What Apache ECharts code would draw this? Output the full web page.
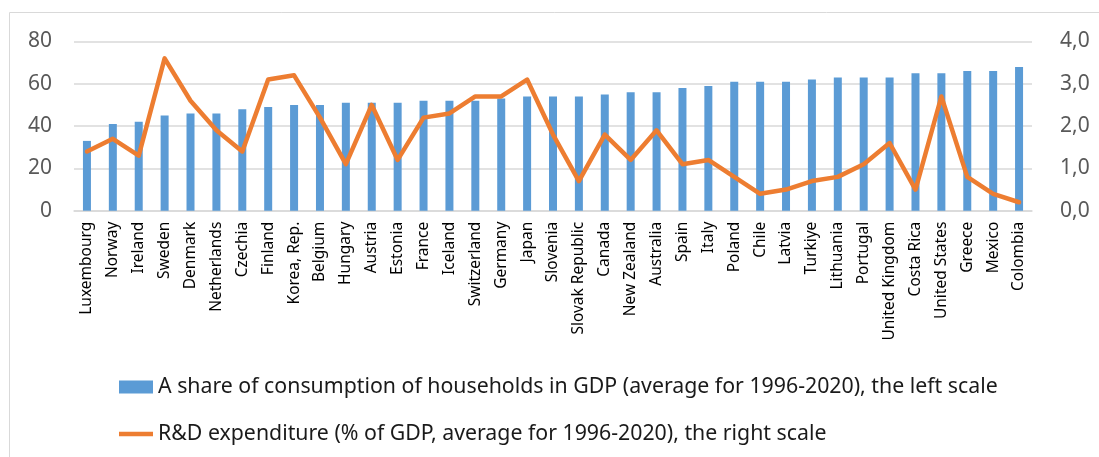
<!DOCTYPE html>
<html>
<head>
<meta charset="utf-8">
<script src="https://cdn.jsdelivr.net/npm/echarts@6/dist/echarts.min.js"></script>
<style>
  html, body { margin: 0; padding: 0; background: #fff; }
  #chart { width: 1099px; height: 457px; }
</style>
</head>
<body>
<div id="chart"></div>
<script>
// countries (x axis)
var countries = ['Luxembourg', 'Norway', 'Ireland', 'Sweden', 'Denmark', 'Netherlands', 'Czechia',
  'Finland', 'Korea, Rep.', 'Belgium', 'Hungary', 'Austria', 'Estonia', 'France', 'Iceland',
  'Switzerland', 'Germany', 'Japan', 'Slovenia', 'Slovak Republic', 'Canada', 'New Zealand',
  'Australia', 'Spain', 'Italy', 'Poland', 'Chile', 'Latvia', 'Turkiye', 'Lithuania', 'Portugal',
  'United Kingdom', 'Costa Rica', 'United States', 'Greece', 'Mexico', 'Colombia'];

// household consumption, % of GDP (left scale)
var consumption = [33, 41, 42, 45, 46, 46, 48, 49, 50, 50, 51, 51, 51, 52, 52, 52, 53, 54, 54, 54,
  55, 56, 56, 58, 59, 61, 61, 61, 62, 63, 63, 63, 65, 65, 66, 66, 68];

// R&D expenditure, % of GDP (right scale)
var rnd = [1.4, 1.7, 1.3, 3.6, 2.6, 1.9, 1.4, 3.1, 3.2, 2.2, 1.1, 2.5, 1.2, 2.2, 2.3, 2.7, 2.7, 3.1,
  1.8, 0.7, 1.8, 1.2, 1.9, 1.1, 1.2, 0.8, 0.4, 0.5, 0.7, 0.8, 1.1, 1.6, 0.5, 2.7, 0.8, 0.4, 0.2];

var nameBar = 'A share of consumption of households in GDP (average for 1996-2020), the left scale';
var nameLine = 'R&D expenditure (% of GDP, average for 1996-2020), the right scale';

var myChart = echarts.init(document.getElementById('chart'));
var option = {
  animation: false,
  textStyle: { fontFamily: 'Noto Sans' },
  grid: { left: 74, right: 67, top: 41.5, bottom: 246.3 },
  graphic: [
    { type: 'line', shape: { x1: 9.5, y1: 12.5, x2: 1099, y2: 12.5 }, style: { stroke: '#d9d9d9', lineWidth: 1 } },
    { type: 'line', shape: { x1: 9.5, y1: 12.5, x2: 9.5, y2: 457 }, style: { stroke: '#d9d9d9', lineWidth: 1 } }
  ],
  legend: {
    orient: 'vertical',
    left: 119,
    top: 375,
    padding: 0,
    itemWidth: 34,
    itemHeight: 13,
    itemGap: 23,
    textStyle: { fontSize: 21.3, color: '#1a1a1a', lineHeight: 24, fontFamily: 'Noto Sans' },
    data: [
      { name: nameBar, icon: 'rect' },
      { name: nameLine, icon: 'path://M0,0 L34,0 L34,4.5 L0,4.5 Z' }
    ]
  },
  xAxis: {
    type: 'category',
    data: countries,
    axisLine: { lineStyle: { color: '#d9d9d9', width: 1.5 } },
    axisTick: { show: false },
    axisLabel: { rotate: 90, interval: 0, fontSize: 15.5, color: '#000', margin: 11 }
  },
  yAxis: [
    {
      type: 'value', min: 0, max: 80, interval: 20,
      axisLine: { show: false }, axisTick: { show: false },
      splitLine: { lineStyle: { color: '#d9d9d9', width: 1.5 } },
      axisLabel: { fontSize: 21, color: '#595959', margin: 22 }
    },
    {
      type: 'value', min: 0, max: 4, interval: 1,
      axisLine: { show: false }, axisTick: { show: false },
      splitLine: { show: false },
      axisLabel: {
        fontSize: 21, color: '#595959', margin: 28,
        formatter: function (v) { return v.toFixed(1).replace('.', ','); }
      }
    }
  ],
  series: [
    {
      name: nameBar,
      type: 'bar',
      data: consumption,
      barWidth: 8,
      itemStyle: { color: '#5b9bd5' }
    },
    {
      name: nameLine,
      type: 'line',
      yAxisIndex: 1,
      data: rnd,
      symbol: 'none',
      lineStyle: { color: '#ed7d31', width: 4.5, cap: 'round', join: 'round' },
      itemStyle: { color: '#ed7d31' }
    }
  ]
};
myChart.setOption(option, true);
</script>
</body>
</html>
